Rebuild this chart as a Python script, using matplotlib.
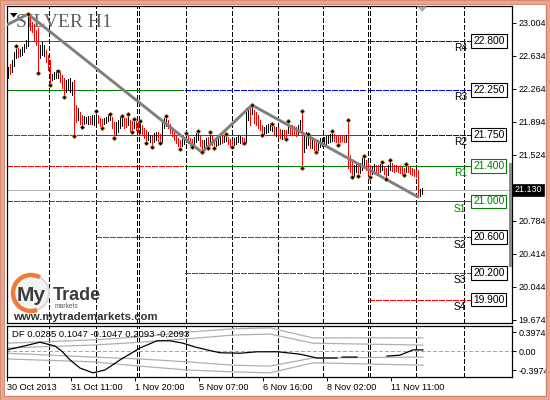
import matplotlib
matplotlib.use("Agg")
import matplotlib.pyplot as plt
import matplotlib.transforms as mtransforms
from matplotlib.patches import Rectangle, Circle, Polygon, Arc
import numpy as np

plt.rcParams['lines.scale_dashes'] = False
plt.rcParams['font.family'] = ['Liberation Sans', 'DejaVu Sans']

# ---------------- data ----------------
bar_high = [22.51, 22.54, 22.59, 22.67, 22.74, 22.72, 22.71, 22.73, 22.77, 22.81,
            23.10, 23.06, 23.01, 22.99, 22.92, 22.94, 22.75, 22.79, 22.75, 22.70,
            22.64, 22.59, 22.43, 22.45, 22.47, 22.46, 22.45, 22.42, 22.38, 22.36,
            22.37, 22.38, 22.34, 22.36, 22.08, 22.05, 22.00, 21.97, 21.96, 21.95,
            21.96, 21.96, 21.97, 21.97, 22.01, 21.97, 21.94, 21.92, 21.94, 21.95,
            21.98, 21.98, 21.95, 21.89, 21.89, 21.91, 21.95, 21.96, 21.94, 21.94,
            21.98, 21.91, 21.90, 21.92, 21.90, 21.89, 21.90, 21.86, 21.82, 21.80,
            21.78, 21.75, 21.73, 21.77, 21.78, 21.78, 21.76, 21.89, 21.94, 21.96,
            21.91, 21.87, 21.83, 21.78, 21.73, 21.71, 21.69, 21.70, 21.72, 21.77,
            21.75, 21.71, 21.70, 21.72, 21.77, 21.79, 21.75, 21.69, 21.69, 21.71,
            21.72, 21.78, 21.73, 21.70, 21.71, 21.72, 21.75, 21.73, 21.73, 21.76,
            21.72, 21.70, 21.69, 21.71, 21.72, 21.75, 21.73, 21.72, 21.71, 22.05,
            22.05, 22.06, 22.08, 22.03, 22.00, 21.97, 21.91, 21.86, 21.83, 21.86,
            21.87, 21.88, 21.87, 21.85, 21.83, 21.82, 21.81, 21.80, 21.80, 21.80,
            21.90, 21.86, 21.86, 21.85, 21.83, 21.86, 21.91, 22.01, 21.75, 21.78,
            21.76, 21.72, 21.71, 21.69, 21.67, 21.69, 21.71, 21.71, 21.72, 21.73,
            21.75, 21.76, 21.79, 21.76, 21.75, 21.73, 21.75, 21.75, 21.75, 21.75,
            21.91, 21.52, 21.46, 21.41, 21.43, 21.41, 21.43, 21.49, 21.51, 21.46,
            21.43, 21.41, 21.40, 21.42, 21.41, 21.41, 21.42, 21.44, 21.40, 21.37,
            21.41, 21.46, 21.43, 21.41, 21.41, 21.40, 21.40, 21.39, 21.37, 21.42,
            21.40, 21.39, 21.37, 21.36, 21.35, 21.35, 21.14, 21.15]
bar_low = [22.38, 22.43, 22.45, 22.52, 22.61, 22.62, 22.63, 22.64, 22.67, 22.72,
           22.74, 22.92, 22.90, 22.81, 22.75, 22.44, 22.61, 22.64, 22.63, 22.56,
           22.47, 22.31, 22.36, 22.37, 22.38, 22.38, 22.34, 22.27, 22.17, 22.23,
           22.25, 22.23, 22.19, 21.73, 21.89, 21.91, 21.87, 21.83, 21.87, 21.88,
           21.87, 21.87, 21.87, 21.86, 21.87, 21.88, 21.85, 21.82, 21.87, 21.88,
           21.90, 21.91, 21.82, 21.71, 21.75, 21.78, 21.82, 21.85, 21.82, 21.83,
           21.86, 21.79, 21.78, 21.82, 21.80, 21.78, 21.77, 21.75, 21.71, 21.66,
           21.69, 21.67, 21.61, 21.67, 21.69, 21.68, 21.66, 21.66, 21.82, 21.85,
           21.82, 21.77, 21.73, 21.69, 21.66, 21.62, 21.59, 21.62, 21.64, 21.67,
           21.66, 21.63, 21.61, 21.63, 21.67, 21.69, 21.62, 21.55, 21.58, 21.61,
           21.60, 21.67, 21.63, 21.60, 21.62, 21.63, 21.64, 21.66, 21.67, 21.68,
           21.64, 21.62, 21.61, 21.63, 21.64, 21.67, 21.66, 21.64, 21.66, 21.66,
           21.91, 21.86, 21.98, 21.88, 21.86, 21.82, 21.80, 21.75, 21.76, 21.77,
           21.78, 21.80, 21.79, 21.76, 21.73, 21.72, 21.71, 21.70, 21.71, 21.70,
           21.77, 21.75, 21.76, 21.75, 21.73, 21.76, 21.80, 21.37, 21.55, 21.60,
           21.63, 21.60, 21.60, 21.58, 21.55, 21.58, 21.61, 21.62, 21.63, 21.64,
           21.66, 21.67, 21.68, 21.68, 21.67, 21.63, 21.67, 21.68, 21.67, 21.67,
           21.37, 21.33, 21.27, 21.29, 21.33, 21.29, 21.32, 21.35, 21.40, 21.35,
           21.31, 21.27, 21.31, 21.33, 21.33, 21.31, 21.33, 21.35, 21.31, 21.25,
           21.30, 21.35, 21.34, 21.33, 21.34, 21.33, 21.32, 21.31, 21.30, 21.33,
           21.33, 21.31, 21.30, 21.29, 21.27, 21.05, 21.06, 21.08]
# k = up bar (black), r = down bar (red)
bar_dirs = ("krkkkrkkkk" "krrrrrkkkr" "rrkkkkrrrk" "kkkrrkrrkk" "krkkkrrrkk"
            "kkrrkkkkrr" "krrkrrkrrr" "kkrkkrrkkk" "rrrrrrrkkk" "rrrkkkrrkk"
            "rkrrkkkrkk" "rrrkkkkrrk" "krkrrrrrkk" "kkkrkrrkrr" "krrrrkkrkk"
            "krkrrkkkkk" "kkkrrrrrrk" "rrrkkrkkkr" "rrkkrrkkrr" "kkrrrrrrrk"
            "rrrrrrkk")
fractal_up = [4, 10, 25, 44, 51, 57, 60, 63, 66, 79, 89, 95, 101, 109, 122, 132,
              140, 147, 150, 162, 170, 178, 187, 191, 199]
fractal_down = [15, 21, 28, 33, 37, 47, 53, 62, 69, 72, 76, 86, 92, 97, 100, 103,
                112, 118, 127, 139, 147, 154, 165, 172, 175, 181, 189, 198]
zigzag_bar = [-4, 10, 97, 122, 205]
zigzag_price = [22.94, 23.10, 21.55, 22.08, 21.05]

level_names = ['R4', 'R3', 'R2', 'R1', 'S1', 'S2', 'S3', 'S4']
level_values = [22.80, 22.25, 21.75, 21.40, 21.00, 20.60, 20.20, 19.90]
segment_start = [-0.5, 44.0, 88.5, 180.5]
segment_end = [43.0, 87.5, 179.5, 232.0]
# g = green solid, r = red dashed, b = blue dashed, - = none
segment_styles = ["ggrrr---", "bggrrr--", "bbggrrr-", "bbbggrrr"]

grid_bars = [20.65, 43.85, 64.65, 65.5, 88.85, 111.85, 134.85, 157.65,
             179.75, 180.75, 203.85, 227.85]
date_bars = [-0.5, 31.5, 63.5, 95.5, 127.5, 159.5, 191.5]
date_labels = ['30 Oct 2013', '31 Oct 11:00', '1 Nov 20:00', '5 Nov 07:00',
               '6 Nov 16:00', '8 Nov 02:00', '11 Nov 11:00']
price_ticks = [23.004, 22.634, 22.264, 21.894, 21.524, 20.784, 20.414, 20.044, 19.674]
last_price = 21.130

df_bars = [-0.5, 8, 16, 23.5, 27, 31, 36, 42.5, 48.5, 56, 66, 74.5, 81, 87.5,
           93.5, 99.5, 106, 116, 124.5, 135, 146, 154.5, 164.5, 165.5,
           167, 174.5, 175.5, 189.5, 196, 202.5, 207.5]
df_values = [0.03, 0.11, 0.19, 0.11, 0.0, -0.18, -0.35, -0.45, -0.39, -0.18,
             0.07, 0.22, 0.22, 0.17, 0.09, 0.03, -0.03, -0.04, -0.01, -0.01,
             -0.06, -0.14, -0.14, np.nan, -0.12, -0.12, np.nan, -0.10, -0.08,
             0.03, 0.03]
band_bars = [-0.5, 42.5, 66, 89.5, 112.5, 131, 152.5, 207.5]
band_u2 = [0.17, 0.24, 0.30, 0.40, 0.47, 0.49, 0.28, 0.28]
band_u1 = [0.07, 0.13, 0.19, 0.26, 0.34, 0.36, 0.17, 0.13]
band_l1 = [-0.04, -0.12, -0.16, -0.22, -0.29, -0.31, -0.14, -0.12]
band_l2 = [-0.16, -0.22, -0.31, -0.39, -0.43, -0.45, -0.24, -0.29]
df_ticks = [0.3974, 0.0, -0.3974]
df_tick_labels = ['0.3974', '0.00', '-0.3974']
df_title = 'DF 0.0285 0.1047 -0.1047 0.2093 -0.2093'
chart_title = 'SILVER H1'

# ---------------- figure ----------------
W, H = 550, 400
fig = plt.figure(figsize=(5.5, 4.0), dpi=100)
fig.patch.set_facecolor('white')


def fr(x0, y0, x1, y1):
    return [x0 / W, 1 - y1 / H, (x1 - x0) / W, (y1 - y0) / H]


ax = fig.add_axes(fr(7, 6, 512, 323))
ax2 = fig.add_axes(fr(7, 326, 512, 377))
for a in (ax, ax2):
    a.set_facecolor('white')
    for s in a.spines.values():
        s.set_linewidth(0.9)
        s.set_color('black')
    a.set_xlim(-0.5, 252)

ax.set_ylim(19.6365, 23.1912)
ax2.set_ylim(-0.537, 0.529)

GRID_DASH = (2.9, 1.8)
LVL_DASH = (3.6, 1.4)
LW = 0.72

# vertical grid (day separators)
for a in (ax, ax2):
    for gx in grid_bars:
        ln, = a.plot([gx, gx], [0, 1], transform=a.get_xaxis_transform(),
                     color='black', lw=LW, zorder=1, antialiased=False)
        ln.set_dashes(GRID_DASH)

# pivot level segments
col = {'g': '#008000', 'r': '#FF0000', 'b': '#0000FF'}
for s0, s1, sty in zip(segment_start, segment_end, segment_styles):
    for lv, c in zip(level_values, sty):
        if c == '-':
            continue
        ln, = ax.plot([s0, s1], [lv, lv], color=col[c], lw=LW, zorder=1.5,
                      antialiased=False)
        if c != 'g':
            ln.set_dashes(LVL_DASH)

# current price line
ax.axhline(last_price, color='#B4B4B4', lw=LW, zorder=1.4, antialiased=False)

# title (behind bars)
ax.text(16 / W, 1 - 27 / H, chart_title, transform=fig.transFigure,
        fontsize=14, family=['Liberation Serif', 'DejaVu Serif'],
        color='#5f5f5f', ha='left', va='baseline', zorder=1.2)

# bars
xs = np.arange(len(bar_high))
colors = ['black' if d == 'k' else '#FF0000' for d in bar_dirs]
ax.vlines(xs, bar_low, bar_high, colors=colors, lw=LW, zorder=3,
          antialiaseds=False)

# zigzag
ax.plot(zigzag_bar, zigzag_price, color='#7f7f7f', lw=2.1, zorder=4,
        solid_capstyle='round', solid_joinstyle='round')

# fractals
fu = np.array(fractal_up)
fd = np.array(fractal_down)
ax.plot(fu, np.array(bar_high)[fu], linestyle='none', marker='D', ms=2.5,
        mfc='black', mec='#F0A050', mew=0.4, zorder=5)
ax.plot(fd, np.array(bar_low)[fd], linestyle='none', marker='D', ms=2.5,
        mfc='black', mec='#F0A050', mew=0.4, zorder=5)

# level labels and boxes
off = mtransforms.offset_copy(ax.transData, fig=fig, x=0, y=-2.5, units='dots')
for name, lv in zip(level_names, level_values):
    green = name in ('R1', 'S1')
    c = '#008000' if green else 'black'
    ax.text(223, lv, name, transform=off, ha='left', va='top', fontsize=7.3,
            color=c, zorder=6)
    ax.text(232.6, lv, f'{lv:.3f}', ha='left', va='center', fontsize=7.4,
            color=c, zorder=6,
            bbox=dict(boxstyle='square,pad=0.18', fc='white', ec=c, lw=0.8))

# price axis
ax.yaxis.tick_right()
ax.set_yticks(price_ticks)
ax.set_yticklabels([f'{v:.3f}' for v in price_ticks])
ax.tick_params(axis='y', direction='out', length=3, width=0.7, pad=1.5,
               labelsize=6.5, colors='black')
ax.set_xticks([])
blend = mtransforms.blended_transform_factory(ax.transAxes, ax.transData)
ax.text(1.0045, last_price, f'{last_price:.3f}', transform=blend, ha='left',
        va='center', fontsize=6.5, color='white', zorder=7, clip_on=False,
        bbox=dict(boxstyle='square,pad=0.2', fc='black', ec='black', lw=0.5))

# indicator panel
zl = ax2.axhline(0, color='#A8A8A8', lw=LW, zorder=1, antialiased=False)
zl.set_dashes((2.5, 1.5))
for band in (band_u2, band_u1, band_l1, band_l2):
    ax2.plot(band_bars, band, color='#B0B0B0', lw=0.9, zorder=2)
ax2.plot(df_bars, df_values, color='black', lw=0.9, zorder=3)
ax2.text(12 / W, 1 - 334.5 / H, df_title, transform=fig.transFigure,
         fontsize=6.8, ha='left', va='center', color='black')
ax2.yaxis.tick_right()
ax2.set_yticks(df_ticks)
ax2.set_yticklabels(df_tick_labels)
ax2.tick_params(axis='y', direction='out', length=3, width=0.7, pad=1.5,
                labelsize=6.5)
ax2.set_xticks(date_bars)
ax2.set_xticklabels(date_labels)
ax2.tick_params(axis='x', direction='out', length=3, width=0.7, pad=1.5,
                labelsize=6.6)
for lbl in ax2.get_xticklabels():
    lbl.set_ha('left')

# ---------------- overlay (decorations, pixel coords) ----------------
ov = fig.add_axes([0, 0, 1, 1], zorder=10)
ov.set_xlim(0, W)
ov.set_ylim(H, 0)
ov.axis('off')
ov.patch.set_alpha(0)

# outer frame
ov.add_patch(Rectangle((2, 2), W - 4, H - 4, fill=False, ec='#EBA58E', lw=3.2))
ov.add_patch(Rectangle((4.3, 4.3), W - 8.6, H - 8.6, fill=False, ec='#C9785F', lw=0.6))
ov.add_patch(Rectangle((0.3, 0.3), W - 0.6, H - 0.6, fill=False, ec='#D08870', lw=0.6))

# scroll marker on the price axis
ov.add_patch(Rectangle((508.5, 163), 3.5, 104, fc='#8C8C8C', ec='none'))
# chart shift triangle and top-left triangle
ov.add_patch(Polygon([(417.5, 6.5), (427, 6.5), (422.2, 12)], closed=True,
                     fc='#A8A8A8', ec='none'))
ov.add_patch(Polygon([(10, 13), (17.5, 13), (13.7, 17.5)], closed=True,
                     fc='black', ec='none'))

# logo
ov.add_patch(Circle((31, 293), 19, fc='#F4F4F4', ec='none', zorder=1))
ov.add_patch(Arc((31, 293), 36, 36, theta1=70, theta2=300, ec='#F07A3A', lw=3.2, zorder=2))
ov.add_patch(Arc((31, 293), 36, 36, theta1=300, theta2=430, ec='#D9D9D9', lw=1.5, zorder=2))
ov.text(17, 301, 'My', fontsize=15, fontweight='bold', color='#3C3C3C',
        ha='left', va='baseline', zorder=3)
ov.text(53, 300, 'Trade', fontsize=13, fontweight='bold', color='#3C3C3C',
        ha='left', va='baseline', zorder=3)
ov.text(55, 308.5, 'markets', fontsize=4.8, color='#555555', ha='left',
        va='baseline', zorder=3)
ov.text(13, 320.5, 'www.mytrademarkets.com', fontsize=8.2, fontweight='bold',
        color='#333333', ha='left', va='baseline', zorder=3)

fig.savefig('out.png', dpi=100, facecolor='white')
